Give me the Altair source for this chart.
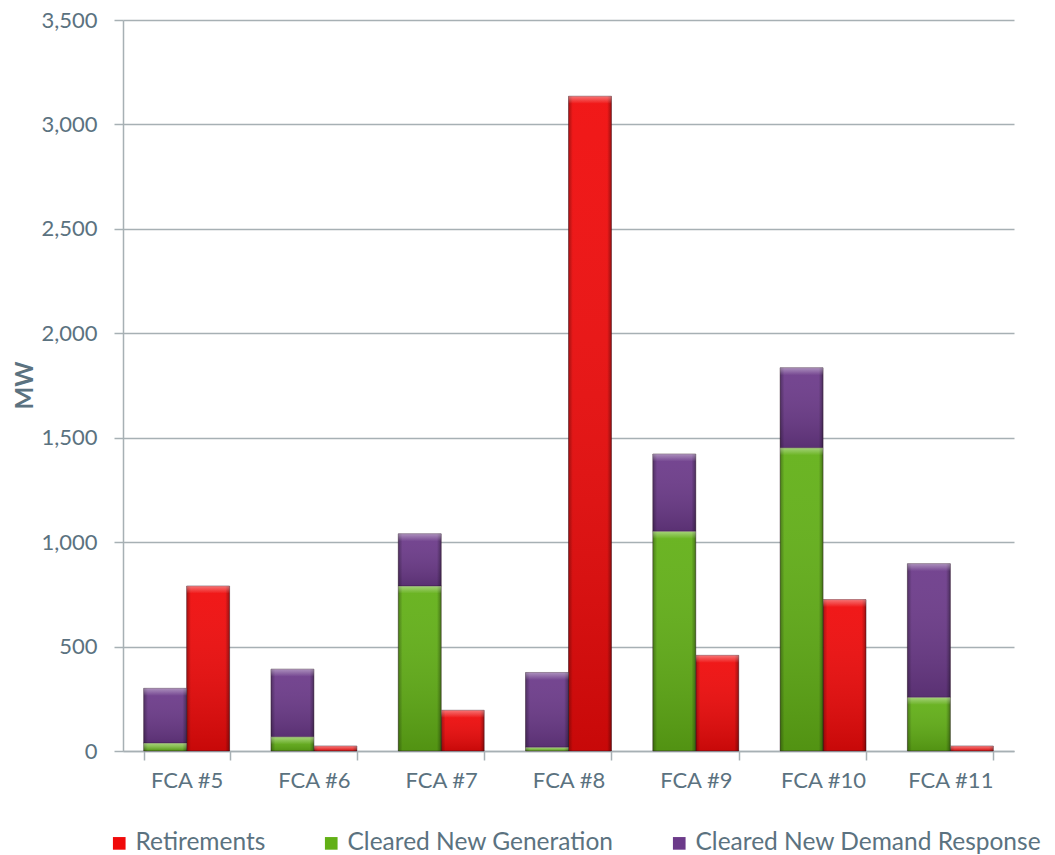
import altair as alt
import pandas as pd

# Forward Capacity Auction results (MW)
categories = ["FCA #5", "FCA #6", "FCA #7", "FCA #8", "FCA #9", "FCA #10", "FCA #11"]
retirements = [790, 24, 195, 3135, 458, 725, 24]
new_generation = [38, 68, 790, 18, 1052, 1452, 257]
new_demand_response = [262, 324, 250, 358, 370, 383, 640]

series_names = ["Retirements", "Cleared New Generation", "Cleared New Demand Response"]
series_colors = ["#f00a0a", "#62b016", "#6c3a8a"]

rows = []
for cat, ret, gen, dr in zip(categories, retirements, new_generation, new_demand_response):
    rows.append({"cat": cat, "series": "Retirements", "grp": "ret", "y0": 0, "y1": ret})
    rows.append({"cat": cat, "series": "Cleared New Generation", "grp": "new", "y0": 0, "y1": gen})
    rows.append({"cat": cat, "series": "Cleared New Demand Response", "grp": "new", "y0": gen, "y1": gen + dr})
df = pd.DataFrame(rows)

FONT = "Lato"
FS = 22
TEXT = "#5b7280"
LINE = "#a7b0b4"

x_enc = alt.X(
    "cat:N",
    sort=categories,
    title=None,
    scale=alt.Scale(paddingInner=0.325, paddingOuter=0.1625),
    axis=alt.Axis(
        labelAngle=0, tickBand="extent", tickSize=9, labelPadding=10,
        labelFontSize=FS, labelColor=TEXT, labelFont=FONT,
        tickColor=LINE, domainColor=LINE, domainWidth=1.5, tickWidth=1.5,
        grid=False,
    ),
)
xoff_enc = alt.XOffset("grp:N", scale=alt.Scale(domain=["new", "ret"], paddingInner=0, paddingOuter=0))
y_scale = alt.Scale(domain=[0, 3500], nice=False)
y_axis = alt.Axis(
    values=list(range(0, 3501, 500)), format=",.0f", tickSize=9, labelPadding=17,
    labelFontSize=FS, labelColor=TEXT, labelFont=FONT,
    tickColor=LINE, domainColor=LINE, domainWidth=1.5, tickWidth=1.5,
    gridColor=LINE, gridWidth=1.5,
    title="MW", titleFont=FONT, titleFontSize=24, titleFontWeight="bold",
    titleColor=TEXT, titleAngle=270, titleX=-98, titleY=365,
    titleAlign="center", titleBaseline="middle",
)
y_enc = alt.Y("y0:Q", scale=y_scale, axis=y_axis)

base = alt.Chart(df).encode(x=x_enc, xOffset=xoff_enc, y=y_enc, y2="y1:Q")

bars = base.mark_bar(stroke="#2a1020", strokeOpacity=0.55, strokeWidth=0.8).encode(
    color=alt.Color(
        "series:N",
        scale=alt.Scale(domain=series_names, range=series_colors),
        legend=alt.Legend(
            title=None, orient="none", direction="horizontal", legendX=-16, legendY=811,
            symbolType="square", symbolSize=160, symbolStrokeWidth=0,
            labelFont=FONT, labelFontSize=24.5, labelColor=TEXT, labelLimit=600,
            columnPadding=53, labelOffset=4,
        ),
    )
)

# shading: darker towards the bottom of each bar
shade_v = base.mark_bar(
    color=alt.Gradient(
        gradient="linear", x1=0, x2=0, y1=0, y2=1,
        stops=[
            alt.GradientStop(offset=0, color="rgba(255,255,255,0.06)"),
            alt.GradientStop(offset=1, color="rgba(0,0,0,0.17)"),
        ],
    )
)

# bevelled side edges
shade_h = base.mark_bar(
    color=alt.Gradient(
        gradient="linear", x1=0, x2=1, y1=0, y2=0,
        stops=[
            alt.GradientStop(offset=0, color="rgba(0,0,0,0.30)"),
            alt.GradientStop(offset=0.1, color="rgba(0,0,0,0.0)"),
            alt.GradientStop(offset=0.9, color="rgba(0,0,0,0.0)"),
            alt.GradientStop(offset=1, color="rgba(0,0,0,0.35)"),
        ],
    )
)

# light bevel along the top edge
highlight = base.transform_calculate(
    h0="max(datum.y0, datum.y1 - 36)"
).mark_bar(
    color=alt.Gradient(
        gradient="linear", x1=0, x2=0, y1=0, y2=1,
        stops=[
            alt.GradientStop(offset=0, color="rgba(255,255,255,0.40)"),
            alt.GradientStop(offset=1, color="rgba(255,255,255,0.0)"),
        ],
    )
).encode(y=alt.Y("h0:Q", scale=y_scale, axis=y_axis), y2="y1:Q")

chart = (
    alt.layer(bars, shade_v, shade_h, highlight)
    .properties(
        width=891, height=731,
        background="white",
        autosize=alt.AutoSizeParams(type="none"),
        padding={"left": 123, "top": 20, "right": 41, "bottom": 104},
    )
    .configure_view(stroke="transparent", strokeWidth=0)
)

chart.save("out.html", embed_options={"renderer": "svg", "actions": False})
